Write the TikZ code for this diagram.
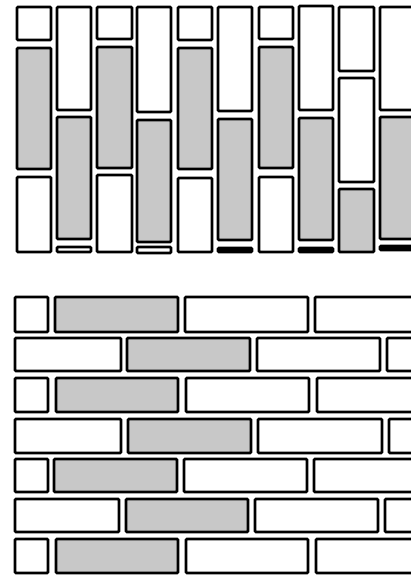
\documentclass[tikz,border=0pt]{standalone}
\usepackage{tikz}
\definecolor{brickgrey}{RGB}{200,200,200}
\begin{document}
\begin{tikzpicture}[
  x=1pt,y=-1pt,
  brick/.style={draw=black,line width=2.7pt,rounded corners=1pt,fill=white},
  greybrick/.style={brick,fill=brickgrey},
  bar/.style={draw=black,line width=2.7pt,rounded corners=1pt,fill=black},
]
\useasboundingbox (0,0) rectangle (411,577);
\clip (0,0) rectangle (411,577);
% ---------- upper panel: vertical bricks ----------
% column x-range / white top / grey / bottom
\foreach \xa/\xb/\ta/\tb/\ga/\gb/\ba/\bb in {
   17/51/7/40/48/169/177/252,
   57/91/7/110/117/239/247/252,
   97/132/7/39/47/168/175/252,
   137/171/7/112/120/242/247/253,
   178/212/7/40/48/169/178/252,
   259/293/7/39/47/168/177/252}{
  \draw[brick] (\xa,\ta) rectangle (\xb,\tb);
  \draw[greybrick] (\xa,\ga) rectangle (\xb,\gb);
  \draw[brick] (\xa,\ba) rectangle (\xb,\bb);
}
% columns ending in a dark strip
\foreach \xa/\xb/\ta/\tb/\ga/\gb/\ba/\bb in {
   218/252/7/111/119/240/248/252,
   299/333/6/110/118/240/248/252,
   380/420/7/110/117/239/246/250}{
  \draw[brick] (\xa,\ta) rectangle (\xb,\tb);
  \draw[greybrick] (\xa,\ga) rectangle (\xb,\gb);
  \draw[bar] (\xa,\ba) rectangle (\xb,\bb);
}
% odd column with two white bricks on top
\draw[brick] (339,7) rectangle (374,71);
\draw[brick] (339,78) rectangle (374,182);
\draw[greybrick] (339,189) rectangle (374,252);
% ---------- lower panel: horizontal courses ----------
\foreach \ya/\yb/\wa/\ga/\gb/\wb/\wc/\wd in {
   297/332/48/55/178/185/308/315,
   378/412/48/56/178/186/309/317,
   459/492/48/54/177/184/307/314,
   539/573/48/56/178/186/308/316}{
  \draw[brick] (15,\ya) rectangle (\wa,\yb);
  \draw[greybrick] (\ga,\ya) rectangle (\gb,\yb);
  \draw[brick] (\wb,\ya) rectangle (\wc,\yb);
  \draw[brick] (\wd,\ya) rectangle (440,\yb);
}
\foreach \ya/\yb/\wa/\ga/\gb/\wb/\wc/\wd in {
   338/371/121/127/250/257/380/387,
   419/453/121/128/251/258/382/389,
   499/532/119/126/248/255/378/385}{
  \draw[brick] (15,\ya) rectangle (\wa,\yb);
  \draw[greybrick] (\ga,\ya) rectangle (\gb,\yb);
  \draw[brick] (\wb,\ya) rectangle (\wc,\yb);
  \draw[brick] (\wd,\ya) rectangle (510,\yb);
}
\end{tikzpicture}
\end{document}
